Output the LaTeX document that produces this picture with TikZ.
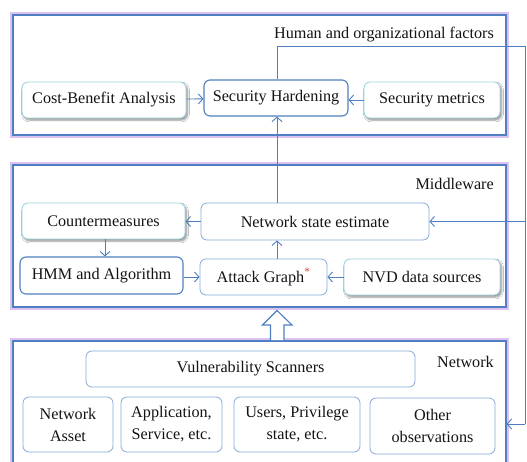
\documentclass[tikz,border=0pt]{standalone}
\usepackage{fontspec}
\setmainfont{Liberation Serif}
\usetikzlibrary{arrows.meta,shadows.blur}
\definecolor{frameblue}{HTML}{4F7FC0}
\definecolor{glow}{HTML}{D2B4EE}
\definecolor{softblue}{HTML}{86AADC}
\definecolor{cyanline}{HTML}{9ED6E2}
\definecolor{starred}{HTML}{D8452A}
\tikzset{
  x=1pt, y=-1pt,
  every node/.style={font=\fontsize{16.2}{22}\selectfont, text=black!92},
  box/.style={draw, rounded corners=6pt, fill=white, inner sep=0pt, align=center},
  strong/.style={box, draw=frameblue, line width=1.1pt},
  soft/.style={box, draw=softblue, line width=0.8pt},
  shade/.style={box, draw=cyanline, line width=0.9pt,
    blur shadow={shadow xshift=1.5pt, shadow yshift=-2pt, shadow blur steps=6, shadow opacity=45}},
  link/.style={draw=frameblue, line width=0.9pt, -{Straight Barb[length=4.5pt,width=10pt,line width=0.9pt]}},
  wire/.style={draw=frameblue, line width=0.9pt},
  layer/.style={draw=frameblue, line width=1.1pt},
  halo/.style={draw=glow, line width=3pt, opacity=0.8},
  tag/.style={anchor=east, inner sep=0pt},
}
\newcommand{\layerframe}[4]{%
  \draw[halo] (#1-1.8,#2-1.8) rectangle (#3+1.8,#4+1.8);
  \draw[layer] (#1,#2) rectangle (#3,#4);}
\begin{document}
\begin{tikzpicture}
\useasboundingbox (0,0) rectangle (527,461);
\fill[white] (0,0) rectangle (527,461);
\begin{scope}
\clip (0,0) rectangle (527,461);
% layer frames
\layerframe{13}{15}{506}{135}
\layerframe{13}{165}{506}{307}
\layerframe{13}{341}{506}{475}
\end{scope}

% layer titles
\node[tag] (ttop) at (494,35) {Human and organizational factors};
\node[tag] (tmid) at (494,184) {Middleware};
\node[tag] (tbot) at (494,362) {Network};

% top layer
\node[shade, minimum width=164, minimum height=36] (cba) at (104,100) {Cost-Benefit Analysis};
\node[strong, minimum width=144, minimum height=36] (sh) at (276,98) {Security Hardening};
\node[shade, minimum width=136, minimum height=36] (sm) at (432,100) {Security metrics};

% middle layer
\node[shade, minimum width=163, minimum height=36] (cm) at (103.5,221) {Countermeasures};
\node[soft, minimum width=228, minimum height=37] (nse) at (315,221.5) {Network state estimate};
\node[strong, minimum width=163, minimum height=37] (hmm) at (101.5,275.5) {HMM and Algorithm};
\node[soft, minimum width=127, minimum height=36] (ag) at (263.5,277) {Attack Graph\textsuperscript{\color{starred}*}};
\node[shade, minimum width=156, minimum height=36] (nvd) at (422,277) {NVD data sources};

% network layer
\node[soft, minimum width=329, minimum height=36] (vs) at (250.5,369) {Vulnerability Scanners};
\node[soft, minimum width=90, minimum height=55] (na) at (68,424.5) {Network\\Asset};
\node[soft, minimum width=101, minimum height=55] (app) at (171.5,424.5) {Application,\\Service, etc.};
\node[soft, minimum width=126, minimum height=55] (usr) at (297,424.5) {Users, Privilege\\state, etc.};
\node[soft, minimum width=125, minimum height=56] (oth) at (432.5,426) {Other\\observations};

% connectors inside the layers
\draw[link] (cba) -- (sh);
\draw[link] (sm) -- (sh.east |- sm);
\draw[link] (nse) -- (cm.east |- nse);
\draw[link] (cm.south -| 105,0) -- (hmm.north -| 105,0);
\draw[link] (hmm.east |- ag) -- (ag);
\draw[link] (nvd) -- (ag);
\draw[link] (ag.north -| 277,0) -- (nse.south -| 277,0);
\draw[link] (nse.north -| 277,0) -- (sh.south -| 277,0);

% feedback bus on the right edge
\coordinate (turn) at (277,46);
\coordinate (edge) at (525,46);
\coordinate (busm) at (525,221.5);
\coordinate (busb) at (525,424);
\coordinate (netin) at (506.5,424);
\draw[wire] (sh.north -| turn) -- (turn) -- (edge) -- (busb);
\draw[link] (busm) -- (nse);
\draw[link] (busb) -- (netin);

% hollow arrow from the network layer up to the middleware
\coordinate (hbase) at (277,340);
\coordinate (htip) at (277,310.5);
\draw[frameblue, line width=1.1pt, fill=white, line join=miter]
  (hbase) ++(-6.5,0) -- ++(0,-15) -- ++(-8,0) -- (htip) -- ++(15,14.5) -- ++(-8,0) -- ++(0,15);
\end{tikzpicture}
\end{document}
